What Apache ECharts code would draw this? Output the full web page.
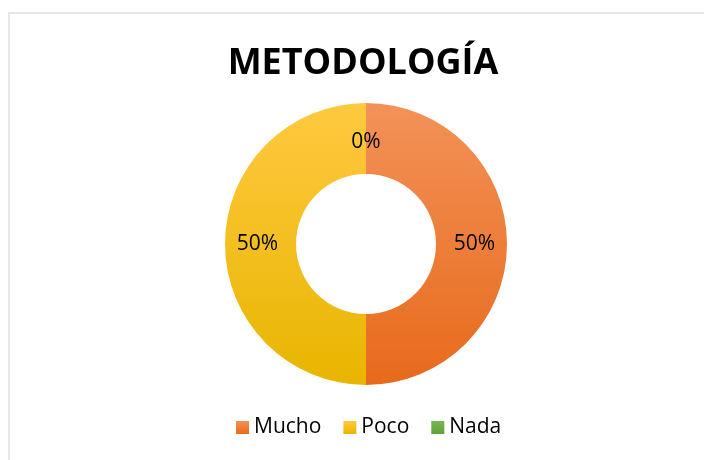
<!DOCTYPE html>
<html>
<head>
<meta charset="utf-8">
<script src="https://cdn.jsdelivr.net/npm/echarts@6/dist/echarts.min.js"></script>
<style>
	html, body {
		margin: 0;
		padding: 0;
		background: #fff;
		overflow: hidden;
	}
	#frame {
		position: absolute;
		left: 8px;
		top: 12px;
		width: 720px;
		height: 470px;
		border: 2px solid #E3E7EC;
	}
	#chart {
		position: absolute;
		left: 0;
		top: 0;
		width: 704px;
		height: 460px;
	}
</style>
</head>
<body>
<div id="frame"></div>
<div id="chart"></div>
<script>
	// datos del gráfico
	const categorias = ['Mucho', 'Poco', 'Nada']
	const valores = [50, 50, 0]
	const colores = [
		['#F39258', '#E76A1B'],
		['#FFC940', '#E8B500'],
		['#78B650', '#62A03A']
	]

	const grad = (c) => new echarts.graphic.LinearGradient(0, 0, 0, 1, [
		{ offset: 0, color: c[0] },
		{ offset: 1, color: c[1] }
	])

	const myChart = echarts.init(document.getElementById('chart'))

	const option = {
		animation: false,
		title: {
			text: 'METODOLOGÍA',
			left: 358,
			textAlign: 'center',
			top: 41,
			textStyle: {
				fontFamily: 'Open Sans',
				fontWeight: 'bold',
				fontSize: 36,
				color: '#000'
			}
		},
		legend: {
			data: categorias,
			bottom: 17,
			left: 231,
			icon: 'rect',
			itemWidth: 13,
			itemHeight: 13,
			itemGap: 22,
			itemStyle: { borderWidth: 0 },
			textStyle: {
				fontFamily: 'Open Sans',
				fontSize: 21,
				color: '#000'
			}
		},
		series: [{
			type: 'pie',
			center: [366, 244],
			radius: [70, 141],
			startAngle: 90,
			clockwise: true,
			label: {
				show: true,
				position: 'inside',
				formatter: '{d}%',
				fontFamily: 'Open Sans',
				fontSize: 21,
				color: '#000'
			},
			labelLine: { show: false },
			emphasis: { disabled: true },
			data: categorias.map((n, i) => ({
				name: n,
				value: valores[i],
				itemStyle: { color: grad(colores[i]) },
				// la etiqueta del 0% queda un poco más abajo
				label: valores[i] === 0 ? { offset: [0, 7] } : {}
			}))
		}]
	}

	myChart.setOption(option)
</script>
</body>
</html>
